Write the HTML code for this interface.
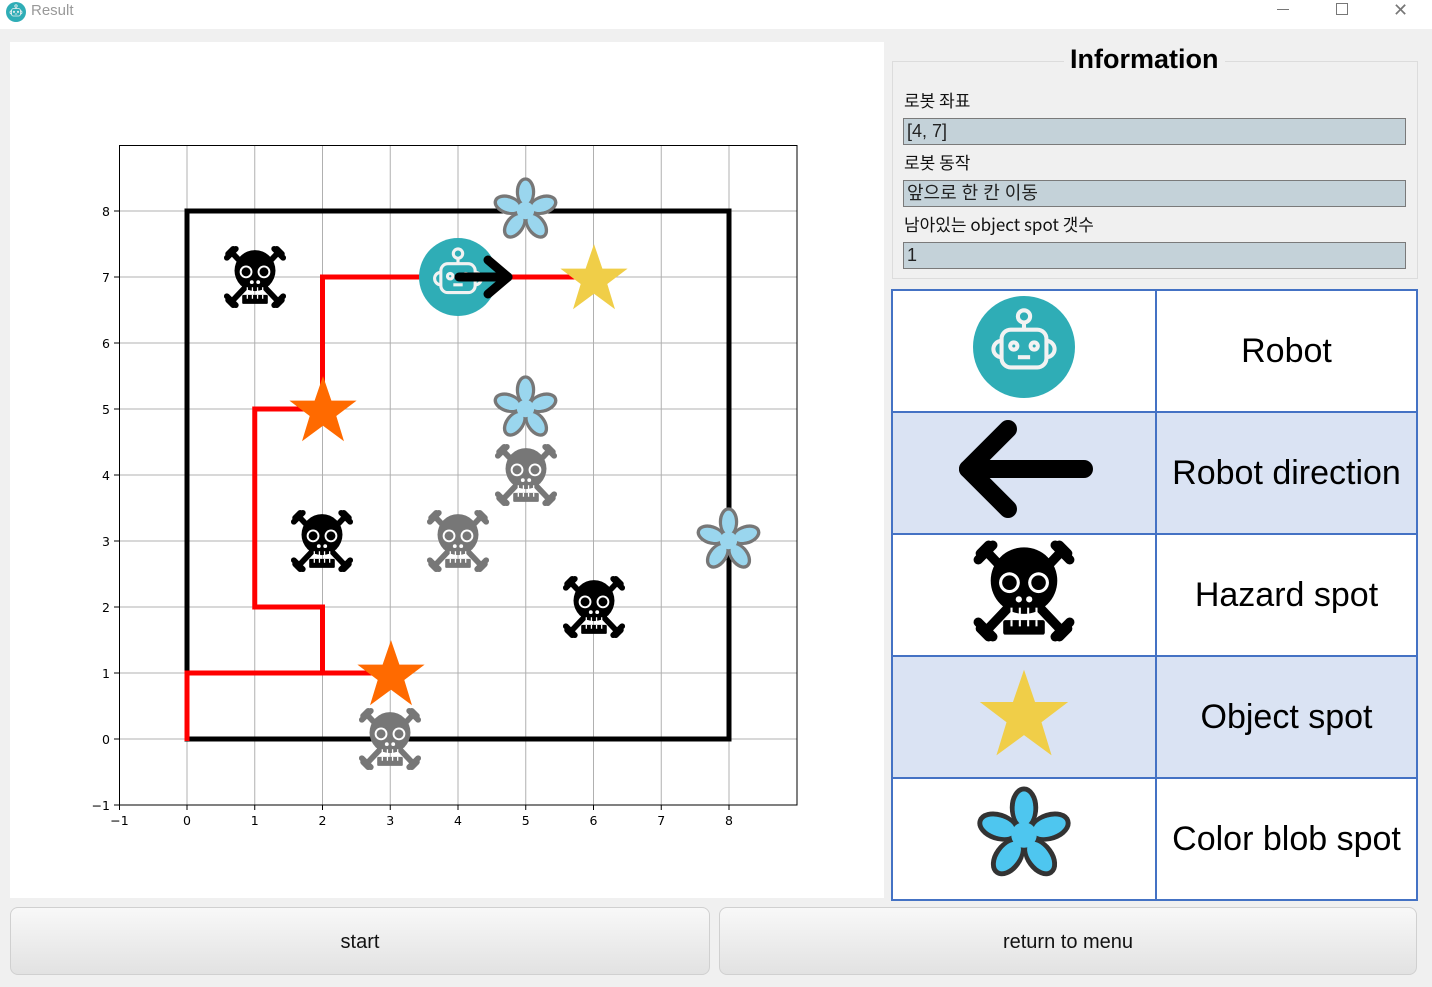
<!DOCTYPE html>
<html><head><meta charset="utf-8">
<style>
*{margin:0;padding:0;box-sizing:border-box}
body{width:1432px;height:987px;background:#f0f0f0;position:relative;overflow:hidden;font-family:"Liberation Sans","Noto Sans CJK KR",sans-serif}
.abs{position:absolute}
.title{left:0;top:0;width:1432px;height:29px;background:#fff}
.lbl{font-size:17px;color:#111;left:904px;font-family:"Noto Sans CJK KR",sans-serif;line-height:20px}
.fld{left:903px;width:503px;height:27px;background:#c4d2d9;border:1px solid #7a7a7a;font-size:18px;color:#222;padding-left:3px;line-height:25px}
table{position:absolute;left:891px;top:289px;width:527px;border-collapse:collapse}
td{border:2px solid #4472c4;height:122px;text-align:center;font-size:34px;color:#000;font-family:"Liberation Sans","DejaVu Sans",sans-serif}
td.i{width:264px}
tr.b td{background:#dae3f3}
.btn{top:907px;height:68px;border:1px solid #d0d0d0;border-radius:8px;background:linear-gradient(#f8f8f8,#e2e2e2);font-size:20px;text-align:center;line-height:68px;color:#111}
</style></head><body>
<div class="abs title">
<svg class="abs" style="left:6px;top:2px" width="20" height="20" viewBox="0 0 100 100"><use href="#robot"/></svg>
<div class="abs" style="left:31px;top:2px;font-size:15px;color:#999">Result</div>
<div class="abs" style="left:1277px;top:9px;width:12px;height:1px;background:#777"></div>
<div class="abs" style="left:1336px;top:3px;width:12px;height:12px;border:1px solid #777"></div>
<div class="abs" style="left:1393px;top:0px;font-size:18px;color:#777">✕</div>
</div>
<div class="abs" style="left:10px;top:42px;width:874px;height:856px;background:#fff"></div>

<svg class="abs" style="left:0;top:0" width="1432" height="987">
<defs>
<symbol id="skull" viewBox="0 0 100 100">
<g stroke="currentColor" stroke-width="9" stroke-linecap="round">
<line x1="14" y1="12" x2="86" y2="88"/><line x1="86" y1="12" x2="14" y2="88"/>
<line x1="8" y1="14" x2="16" y2="6"/><line x1="6" y1="20" x2="20" y2="6"/>
<line x1="92" y1="14" x2="84" y2="6"/><line x1="94" y1="20" x2="80" y2="6"/>
<line x1="8" y1="86" x2="16" y2="94"/><line x1="6" y1="80" x2="20" y2="94"/>
<line x1="92" y1="86" x2="84" y2="94"/><line x1="94" y1="80" x2="80" y2="94"/>
</g>
<ellipse cx="50" cy="40" rx="32" ry="32" fill="currentColor"/>
<rect x="30" y="50" width="40" height="20" rx="4" fill="currentColor"/>
<rect x="30" y="78" width="40" height="14" rx="2" fill="currentColor"/>
<circle cx="36" cy="42" r="10" fill="#fff"/><circle cx="36" cy="42" r="7" fill="currentColor"/>
<circle cx="64" cy="42" r="10" fill="#fff"/><circle cx="64" cy="42" r="7" fill="currentColor"/>
<circle cx="45" cy="58" r="3" fill="#fff"/><circle cx="55" cy="58" r="3" fill="#fff"/>
<g stroke="#fff" stroke-width="2"><line x1="38" y1="66" x2="38" y2="72"/><line x1="46" y1="66" x2="46" y2="72"/><line x1="54" y1="66" x2="54" y2="72"/><line x1="62" y1="66" x2="62" y2="72"/>
<line x1="38" y1="78" x2="38" y2="84"/><line x1="46" y1="78" x2="46" y2="84"/><line x1="54" y1="78" x2="54" y2="84"/><line x1="62" y1="78" x2="62" y2="84"/></g>
</symbol>
<symbol id="star" viewBox="0 0 100 100"><polygon points="50,3 62,38 98,38 69,60 80,96 50,74 20,96 31,60 2,38 38,38"/></symbol>
<symbol id="blob" viewBox="0 0 100 100">
<g stroke="var(--bs,#333)" stroke-width="5" fill="currentColor">
<g transform="translate(50,50)">
<ellipse cx="0" cy="-28" rx="12" ry="19"/>
<ellipse cx="0" cy="-28" rx="12" ry="19" transform="rotate(72)"/>
<ellipse cx="0" cy="-28" rx="12" ry="19" transform="rotate(144)"/>
<ellipse cx="0" cy="-28" rx="12" ry="19" transform="rotate(216)"/>
<ellipse cx="0" cy="-28" rx="12" ry="19" transform="rotate(288)"/>
</g></g>
<g fill="currentColor" transform="translate(50,50)">
<ellipse cx="0" cy="-26" rx="9.5" ry="16"/><ellipse cx="0" cy="-26" rx="9.5" ry="16" transform="rotate(72)"/><ellipse cx="0" cy="-26" rx="9.5" ry="16" transform="rotate(144)"/><ellipse cx="0" cy="-26" rx="9.5" ry="16" transform="rotate(216)"/><ellipse cx="0" cy="-26" rx="9.5" ry="16" transform="rotate(288)"/><circle r="13"/></g>
</symbol>
<symbol id="robot" viewBox="0 0 100 100">
<circle cx="50" cy="50" r="50" fill="#2fadb6"/>
<g fill="none" stroke="#f2f2f2" stroke-width="4">
<circle cx="50" cy="20" r="6"/><line x1="50" y1="26" x2="50" y2="33"/>
<rect x="28" y="33" width="44" height="37" rx="9"/>
<path d="M28 44 a8 8 0 0 0 0 16"/><path d="M72 44 a8 8 0 0 1 0 16"/>
<circle cx="40" cy="49" r="3.5"/><circle cx="60" cy="49" r="3.5"/>
<line x1="44" y1="60" x2="56" y2="60"/></g>
</symbol>
</defs>
<g stroke="#b0b0b0" stroke-width="1">
<line x1="187" y1="145" x2="187" y2="805"/><line x1="254.75" y1="145" x2="254.75" y2="805"/><line x1="322.5" y1="145" x2="322.5" y2="805"/><line x1="390.25" y1="145" x2="390.25" y2="805"/><line x1="458" y1="145" x2="458" y2="805"/><line x1="525.75" y1="145" x2="525.75" y2="805"/><line x1="593.5" y1="145" x2="593.5" y2="805"/><line x1="661.25" y1="145" x2="661.25" y2="805"/><line x1="729" y1="145" x2="729" y2="805"/>
<line x1="119" y1="739" x2="797" y2="739"/><line x1="119" y1="673" x2="797" y2="673"/><line x1="119" y1="607" x2="797" y2="607"/><line x1="119" y1="541" x2="797" y2="541"/><line x1="119" y1="475" x2="797" y2="475"/><line x1="119" y1="409" x2="797" y2="409"/><line x1="119" y1="343" x2="797" y2="343"/><line x1="119" y1="277" x2="797" y2="277"/><line x1="119" y1="211" x2="797" y2="211"/>
</g>
<rect x="119.5" y="145.5" width="677.5" height="659.5" fill="none" stroke="#000" stroke-width="1"/>
<g stroke="#000" stroke-width="1">
<line x1="119.5" y1="805" x2="119.5" y2="810"/><line x1="187" y1="805" x2="187" y2="810"/><line x1="254.75" y1="805" x2="254.75" y2="810"/><line x1="322.5" y1="805" x2="322.5" y2="810"/><line x1="390.25" y1="805" x2="390.25" y2="810"/><line x1="458" y1="805" x2="458" y2="810"/><line x1="525.75" y1="805" x2="525.75" y2="810"/><line x1="593.5" y1="805" x2="593.5" y2="810"/><line x1="661.25" y1="805" x2="661.25" y2="810"/><line x1="729" y1="805" x2="729" y2="810"/>
<line x1="114" y1="805" x2="119.5" y2="805"/><line x1="114" y1="739" x2="119.5" y2="739"/><line x1="114" y1="673" x2="119.5" y2="673"/><line x1="114" y1="607" x2="119.5" y2="607"/><line x1="114" y1="541" x2="119.5" y2="541"/><line x1="114" y1="475" x2="119.5" y2="475"/><line x1="114" y1="409" x2="119.5" y2="409"/><line x1="114" y1="343" x2="119.5" y2="343"/><line x1="114" y1="277" x2="119.5" y2="277"/><line x1="114" y1="211" x2="119.5" y2="211"/>
</g>
<g font-family="DejaVu Sans,sans-serif" font-size="12.5" fill="#000" text-anchor="middle">
<text x="119.5" y="825">−1</text><text x="187" y="825">0</text><text x="254.75" y="825">1</text><text x="322.5" y="825">2</text><text x="390.25" y="825">3</text><text x="458" y="825">4</text><text x="525.75" y="825">5</text><text x="593.5" y="825">6</text><text x="661.25" y="825">7</text><text x="729" y="825">8</text>
</g>
<g font-family="DejaVu Sans,sans-serif" font-size="12.5" fill="#000" text-anchor="end">
<text x="110" y="810">−1</text><text x="110" y="744">0</text><text x="110" y="678">1</text><text x="110" y="612">2</text><text x="110" y="546">3</text><text x="110" y="480">4</text><text x="110" y="414">5</text><text x="110" y="348">6</text><text x="110" y="282">7</text><text x="110" y="216">8</text>
</g>
<rect x="187" y="211" width="542" height="528" fill="none" stroke="#000" stroke-width="5"/>
<g fill="none" stroke="#ff0000" stroke-width="5">
<polyline points="187,741 187,673 390,673"/>
<polyline points="322.5,673 322.5,607 254.75,607 254.75,409 322.5,409 322.5,277 593.5,277"/>
</g>
<g color="#9ad6ee" style="--bs:#777">
<use href="#blob" x="492" y="177" width="67" height="67"/>
<use href="#blob" x="492" y="375" width="67" height="67"/>
<use href="#blob" x="695" y="507" width="67" height="67"/>
</g>
<g color="#000">
<use href="#skull" x="223" y="245" width="64" height="64"/>
<use href="#skull" x="290" y="509" width="64" height="64"/>
<use href="#skull" x="562" y="575" width="64" height="64"/>
</g>
<g color="#777">
<use href="#skull" x="426" y="509" width="64" height="64"/>
<use href="#skull" x="494" y="443" width="64" height="64"/>
<use href="#skull" x="358" y="707" width="64" height="64"/>
</g>
<use href="#star" x="287" y="374" width="72" height="70" fill="#ff6a00"/>
<use href="#star" x="355" y="638" width="72" height="70" fill="#ff6a00"/>
<use href="#star" x="558" y="242" width="72" height="70" fill="#f0ce48"/>
<use href="#robot" x="419" y="238" width="78" height="78"/>
<g fill="none" stroke="#000" stroke-width="9" stroke-linecap="round" stroke-linejoin="round">
<line x1="459" y1="277" x2="508" y2="277"/><polyline points="488,260 508,277 488,294"/>
</g>
</svg>

<div class="abs" style="left:892px;top:61px;width:526px;height:218px;border:1px solid #dcdcdc"></div>
<div class="abs" style="left:1064px;top:44px;padding:0 6px;background:#f0f0f0;font-size:27px;font-weight:bold;color:#000">Information</div>
<div class="abs lbl" style="top:90px">로봇 좌표</div>
<div class="abs fld" style="top:118px">[4, 7]</div>
<div class="abs lbl" style="top:152px">로봇 동작</div>
<div class="abs fld" style="top:180px">앞으로 한 칸 이동</div>
<div class="abs lbl" style="top:214px">남아있는 object spot 갯수</div>
<div class="abs fld" style="top:242px">1</div>

<table>
<tr><td class="i" style="background:#fff"><svg width="102" height="102" viewBox="0 0 100 100"><use href="#robot"/></svg></td><td style="background:#fff">Robot</td></tr>
<tr class="b"><td class="i"><svg width="140" height="100" viewBox="0 0 140 100"><g fill="none" stroke="#000" stroke-width="18" stroke-linecap="round" stroke-linejoin="round"><line x1="14" y1="50" x2="130" y2="50"/><polyline points="54,10 14,50 54,90"/></g></svg></td><td>Robot direction</td></tr>
<tr><td class="i" style="background:#fff"><svg width="104" height="104" viewBox="0 0 100 100" style="color:#000"><use href="#skull"/></svg></td><td style="background:#fff">Hazard spot</td></tr>
<tr class="b"><td class="i"><svg width="96" height="92" viewBox="0 0 100 100" fill="#f0ce48"><use href="#star"/></svg></td><td>Object spot</td></tr>
<tr><td class="i" style="background:#fff"><svg width="98" height="98" viewBox="0 0 100 100" style="color:#4ec6ef"><use href="#blob"/></svg></td><td style="background:#fff">Color blob spot</td></tr>
</table>

<div class="abs btn" style="left:10px;width:700px">start</div>
<div class="abs btn" style="left:719px;width:698px">return to menu</div>
</body></html>
